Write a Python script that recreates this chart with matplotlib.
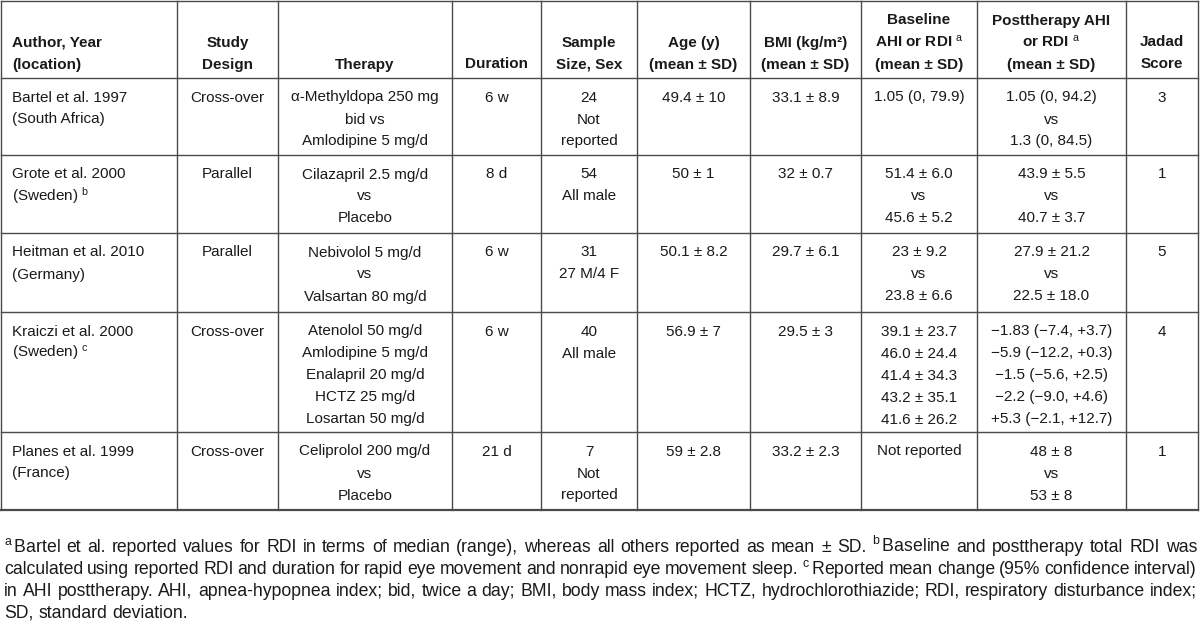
import matplotlib
matplotlib.use('Agg')
import matplotlib.pyplot as plt

plt.rcParams['font.family'] = ['Liberation Sans', 'DejaVu Sans']
plt.rcParams['mathtext.fontset'] = 'custom'
plt.rcParams['mathtext.rm'] = 'Liberation Sans'
plt.rcParams['mathtext.it'] = 'Liberation Sans:italic'
plt.rcParams['mathtext.bf'] = 'Liberation Sans:bold'

# ---- table content ----
headers = [
    ['Author, Year', '(location)'],
    ['Study', 'Design'],
    ['Therapy'],
    ['Duration'],
    ['Sample', 'Size, Sex'],
    ['Age (y)', '(mean ± SD)'],
    ['BMI (kg/m²)', '(mean ± SD)'],
    ['Baseline', r'AHI or RDI $^{\mathrm{a}}$', '(mean ± SD)'],
    ['Posttherapy AHI', r'or RDI $^{\mathrm{a}}$', '(mean ± SD)'],
    ['Jadad', 'Score'],
]

authors = ['Bartel et al. 1997', 'Grote et al. 2000', 'Heitman et al. 2010',
           'Kraiczi et al. 2000', 'Planes et al. 1999']
locations = ['(South Africa)', '(Sweden)', '(Germany)', '(Sweden)', '(France)']
location_notes = ['', 'b', '', 'c', '']
designs = ['Cross-over', 'Parallel', 'Parallel', 'Cross-over', 'Cross-over']
therapies = [
    ['α-Methyldopa 250 mg', 'bid vs', 'Amlodipine 5 mg/d'],
    ['Cilazapril 2.5 mg/d', 'vs', 'Placebo'],
    ['Nebivolol 5 mg/d', 'vs', 'Valsartan 80 mg/d'],
    ['Atenolol 50 mg/d', 'Amlodipine 5 mg/d', 'Enalapril 20 mg/d',
     'HCTZ 25 mg/d', 'Losartan 50 mg/d'],
    ['Celiprolol 200 mg/d', 'vs', 'Placebo'],
]
durations = ['6 w', '8 d', '6 w', '6 w', '21 d']
sample_sizes = ['24', '54', '31', '40', '7']
sexes = [['Not', 'reported'], ['All male'], ['27 M/4 F'], ['All male'], ['Not', 'reported']]
ages = ['49.4 ± 10', '50 ± 1', '50.1 ± 8.2', '56.9 ± 7', '59 ± 2.8']
bmis = ['33.1 ± 8.9', '32 ± 0.7', '29.7 ± 6.1', '29.5 ± 3', '33.2 ± 2.3']
baselines = [
    ['1.05 (0, 79.9)'],
    ['51.4 ± 6.0', 'vs', '45.6 ± 5.2'],
    ['23 ± 9.2', 'vs', '23.8 ± 6.6'],
    ['39.1 ± 23.7', '46.0 ± 24.4', '41.4 ± 34.3', '43.2 ± 35.1', '41.6 ± 26.2'],
    ['Not reported'],
]
posttherapy = [
    ['1.05 (0, 94.2)', 'vs', '1.3 (0, 84.5)'],
    ['43.9 ± 5.5', 'vs', '40.7 ± 3.7'],
    ['27.9 ± 21.2', 'vs', '22.5 ± 18.0'],
    ['−1.83 (−7.4, +3.7)', '−5.9 (−12.2, +0.3)', '−1.5 (−5.6, +2.5)',
     '−2.2 (−9.0, +4.6)', '+5.3 (−2.1, +12.7)'],
    ['48 ± 8', 'vs', '53 ± 8'],
]
jadad = ['3', '1', '5', '4', '1']

footnotes = [
    r'$^{\mathrm{a}}\,$Bartel et al. reported values for RDI in terms of median (range), whereas all others reported as mean ± SD. $^{\mathrm{b}}\,$Baseline and posttherapy total RDI was',
    r'calculated using reported RDI and duration for rapid eye movement and nonrapid eye movement sleep. $^{\mathrm{c}}\,$Reported mean change (95% confidence interval)',
    'in AHI posttherapy. AHI, apnea-hypopnea index; bid, twice a day; BMI, body mass index; HCTZ, hydrochlorothiazide; RDI, respiratory disturbance index;',
    'SD, standard deviation.',
]

# ---- layout (pixel coordinates, y downwards) ----
col_edges = [1, 177, 278, 452, 541, 637, 750, 861, 977, 1126, 1198]
row_edges = [1, 78, 155, 233, 312, 432, 510]
line_h = 22
text_color = '#1a1a1a'
rule_color = '#4a4a4a'
fs = 11

fig = plt.figure(figsize=(12, 6.24), dpi=100)
ax = fig.add_axes([0, 0, 1, 1])
ax.set_xlim(0, 1200)
ax.set_ylim(624, 0)
ax.axis('off')

# grid lines
for y in row_edges[:-1]:
    ax.plot([col_edges[0], col_edges[-1]], [y, y], color=rule_color, lw=1.0)
ax.plot([col_edges[0], col_edges[-1]], [row_edges[-1], row_edges[-1]], color=rule_color, lw=1.6)
for x in col_edges:
    ax.plot([x, x], [row_edges[0], row_edges[-1]], color=rule_color, lw=1.0)

def cell_x(c):
    if c == 0:
        return 12, 'left'
    return (col_edges[c] + col_edges[c + 1]) / 2, 'center'

# header, bottom aligned
for c, lines in enumerate(headers):
    x, ha = cell_x(c)
    n = len(lines)
    for i, s in enumerate(lines):
        yc = 63 - (n - 1 - i) * line_h
        ax.text(x, yc + 5.5, s, ha=ha, va='baseline', fontsize=fs,
                fontweight='bold', color=text_color)

# body rows, top aligned
for r in range(len(authors)):
    loc = locations[r]
    if location_notes[r]:
        loc = loc + r' $^{\mathrm{%s}}$' % location_notes[r]
    cells = [
        [authors[r], loc],
        [designs[r]],
        therapies[r],
        [durations[r]],
        [sample_sizes[r]] + sexes[r],
        [ages[r]],
        [bmis[r]],
        baselines[r],
        posttherapy[r],
        [jadad[r]],
    ]
    top = row_edges[r + 1]
    for c, lines in enumerate(cells):
        x, ha = cell_x(c)
        for i, s in enumerate(lines):
            yc = top + 18 + i * line_h
            ax.text(x, yc + 5.5, s, ha=ha, va='baseline', fontsize=fs,
                    color=text_color)

# footnotes, justified across the table width
renderer = fig.canvas.get_renderer()

def widths(tokens, size):
    out = []
    for tok in tokens:
        t = ax.text(0, 0, tok, fontsize=size)
        out.append(t.get_window_extent(renderer).width)
        t.remove()
    return out

def space_w(size):
    a = widths(['x x', 'xx'], size)
    return a[0] - a[1]

x0, x1 = 4, 1197
tok0 = footnotes[0].split(' ')
ref_size = 10
nat = sum(widths(tok0, ref_size)) + space_w(ref_size) * (len(tok0) - 1)
foot_fs = ref_size * (x1 - x0) * 0.985 / nat
sp = space_w(foot_fs)

for i, line in enumerate(footnotes):
    toks = line.split(' ')
    ws = widths(toks, foot_fs)
    yb = 547 + i * 21.7 + 5.5
    if i < len(footnotes) - 1 and len(toks) > 1:
        gap = (x1 - x0 - sum(ws)) / (len(toks) - 1)
    else:
        gap = sp
    x = x0
    for tok, w in zip(toks, ws):
        ax.text(x, yb, tok, ha='left', va='baseline', fontsize=foot_fs, color=text_color)
        x += w + gap

fig.savefig('out.png', dpi=100)
